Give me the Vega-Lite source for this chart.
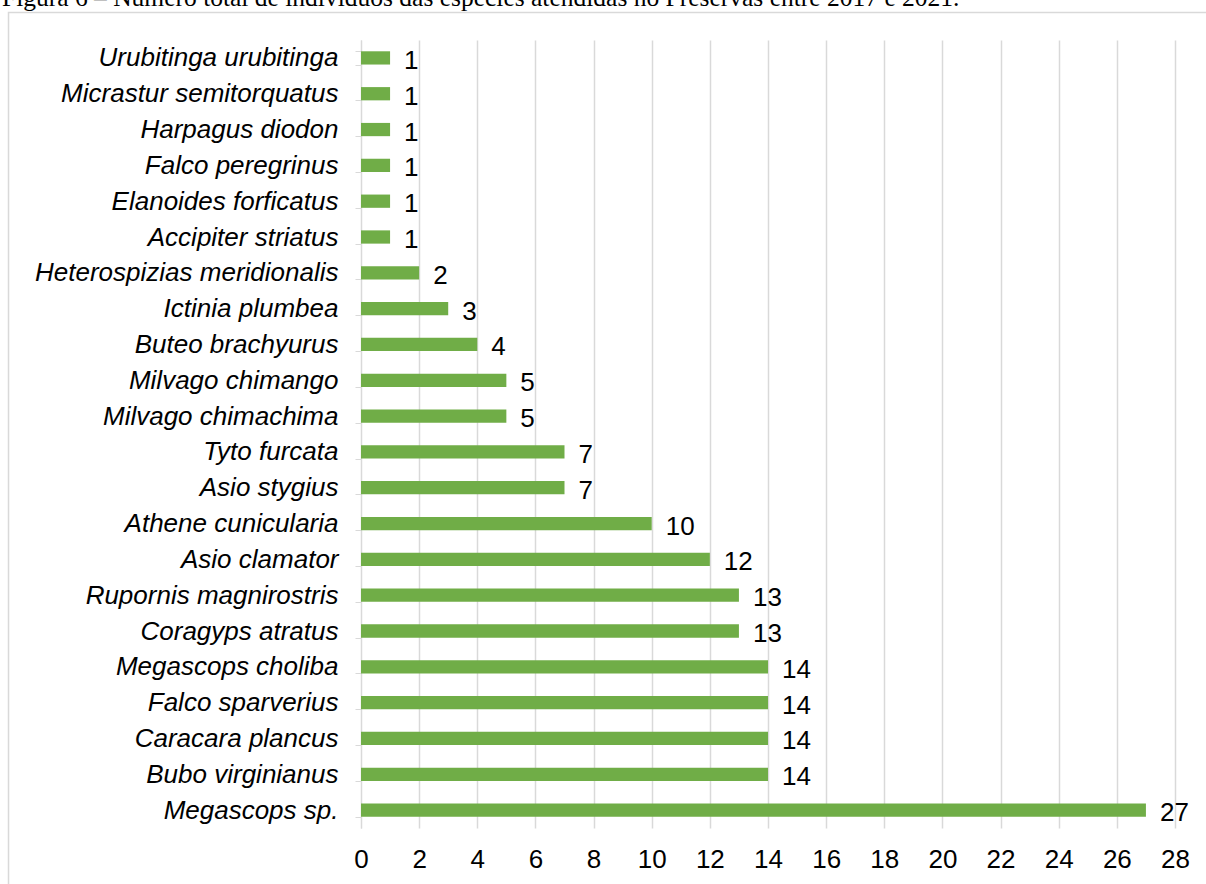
{
  "$schema": "https://vega.github.io/schema/vega-lite/v6.json",
  "width": 814,
  "height": 788,
  "autosize": {"type": "none"},
  "padding": {"left": 361, "top": 40, "right": 31, "bottom": 56},
  "background": "white",
  "title": {
    "text": "Figura 6 – Número total de indivíduos das espécies atendidas no Preservas entre 2017 e 2021.",
    "anchor": "start",
    "frame": "group",
    "dx": -359,
    "dy": 2,
    "baseline": "alphabetic",
    "offset": -18,
    "font": "Liberation Serif",
    "fontSize": 25.5,
    "fontWeight": "normal",
    "color": "#000000"
  },
  "config": {
    "view": {"stroke": null},
    "font": "Liberation Sans"
  },
  "datasets": {
    "birds": [
      {"species": "Urubitinga urubitinga", "n": 1},
      {"species": "Micrastur semitorquatus", "n": 1},
      {"species": "Harpagus diodon", "n": 1},
      {"species": "Falco peregrinus", "n": 1},
      {"species": "Elanoides forficatus", "n": 1},
      {"species": "Accipiter striatus", "n": 1},
      {"species": "Heterospizias meridionalis", "n": 2},
      {"species": "Ictinia plumbea", "n": 3},
      {"species": "Buteo brachyurus", "n": 4},
      {"species": "Milvago chimango", "n": 5},
      {"species": "Milvago chimachima", "n": 5},
      {"species": "Tyto furcata", "n": 7},
      {"species": "Asio stygius", "n": 7},
      {"species": "Athene cunicularia", "n": 10},
      {"species": "Asio clamator", "n": 12},
      {"species": "Rupornis magnirostris", "n": 13},
      {"species": "Coragyps atratus", "n": 13},
      {"species": "Megascops choliba", "n": 14},
      {"species": "Falco sparverius", "n": 14},
      {"species": "Caracara plancus", "n": 14},
      {"species": "Bubo virginianus", "n": 14},
      {"species": "Megascops sp.", "n": 27}
    ],
    "frame": [
      {"x1": -12.125, "x2": 32, "y1": 1.0349, "y2": -0.2}
    ]
  },
  "layer": [
    {
      "data": {"name": "frame"},
      "mark": {"type": "rect", "fill": null, "stroke": "#d9d9d9", "strokeWidth": 1.5, "clip": false},
      "encoding": {
        "x": {
          "field": "x1",
          "type": "quantitative",
          "scale": {"domain": [0, 28], "nice": false},
          "axis": {
            "title": null,
            "values": [0,2,4,6,8,10,12,14,16,18,20,22,24,26,28],
            "labelFontSize": 26,
            "labelFlush": false,
            "labelColor": "#000000",
            "labelPadding": 18,
            "ticks": false,
            "domain": false,
            "grid": true,
            "gridColor": "#d9d9d9",
            "gridWidth": 1.5
          }
        },
        "x2": {"field": "x2"},
        "y": {"field": "y1", "type": "quantitative", "scale": {"domain": [0, 1], "nice": false, "zero": false}, "axis": null},
        "y2": {"field": "y2"}
      }
    },
    {
      "data": {"name": "birds"},
      "encoding": {
        "y": {
          "field": "species",
          "type": "nominal",
          "sort": null,
          "scale": {"paddingInner": 0.63, "paddingOuter": 0.315},
          "axis": {
            "title": null,
            "labelFont": "Liberation Sans",
            "labelFontStyle": "italic",
            "labelFontSize": 26,
            "labelLimit": 500,
            "labelColor": "#000000",
            "labelPadding": 17,
            "tickBand": "extent",
            "tickSize": 6,
            "tickColor": "#d9d9d9",
            "domainColor": "#d9d9d9",
            "grid": false
          }
        },
        "x": {
          "field": "n",
          "type": "quantitative",
          "scale": {"domain": [0, 28], "nice": false},
          "axis": {
            "title": null,
            "values": [0,2,4,6,8,10,12,14,16,18,20,22,24,26,28],
            "labelFontSize": 26,
            "labelFlush": false,
            "labelColor": "#000000",
            "labelPadding": 18,
            "ticks": false,
            "domain": false,
            "grid": true,
            "gridColor": "#d9d9d9",
            "gridWidth": 1.5
          }
        }
      },
      "layer": [
        {"mark": {"type": "bar", "color": "#70AD47"}},
        {
          "mark": {"type": "text", "align": "left", "baseline": "middle", "dx": 14, "dy": 3, "fontSize": 26, "color": "#000000"},
          "encoding": {"text": {"field": "n", "type": "quantitative"}}
        }
      ]
    }
  ],
  "resolve": {"scale": {"y": "independent"}, "axis": {"y": "independent"}}
}
